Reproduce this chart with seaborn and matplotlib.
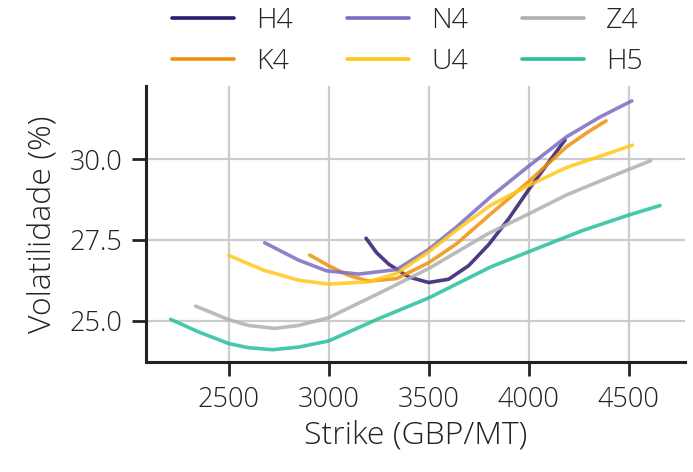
import pandas as pd
import matplotlib
matplotlib.use("Agg")
import matplotlib.pyplot as plt
import seaborn as sns

# Volatility smiles per contract (strike GBP/MT, vol %)
h4_strike = [3187, 3240, 3300, 3400, 3500, 3600, 3700, 3800, 3900, 4000, 4100, 4182]
h4_vol = [27.55, 27.10, 26.75, 26.35, 26.18, 26.28, 26.70, 27.35, 28.15, 29.05, 29.90, 30.59]

k4_strike = [2905, 3000, 3100, 3200, 3340, 3500, 3640, 3810, 4000, 4190, 4300, 4387]
k4_vol = [27.03, 26.70, 26.40, 26.22, 26.30, 26.79, 27.38, 28.30, 29.30, 30.38, 30.85, 31.18]

n4_strike = [2680, 2850, 2990, 3150, 3340, 3500, 3640, 3810, 4000, 4190, 4357, 4516]
n4_vol = [27.41, 26.87, 26.54, 26.44, 26.58, 27.20, 27.90, 28.83, 29.78, 30.69, 31.30, 31.80]

u4_strike = [2500, 2675, 2850, 3000, 3200, 3340, 3500, 3650, 3810, 4000, 4190, 4340, 4519]
u4_vol = [27.02, 26.56, 26.25, 26.13, 26.20, 26.46, 27.13, 27.85, 28.57, 29.18, 29.74, 30.05, 30.43]

z4_strike = [2335, 2500, 2600, 2730, 2850, 3000, 3250, 3500, 3800, 4000, 4190, 4350, 4502, 4611]
z4_vol = [25.45, 25.03, 24.85, 24.76, 24.85, 25.09, 25.84, 26.61, 27.70, 28.30, 28.89, 29.30, 29.68, 29.95]

h5_strike = [2210, 2350, 2500, 2600, 2720, 2850, 3000, 3250, 3500, 3810, 4000, 4266, 4502, 4657]
h5_vol = [25.04, 24.65, 24.29, 24.16, 24.10, 24.18, 24.37, 25.06, 25.70, 26.66, 27.13, 27.78, 28.27, 28.56]

contracts = ["H4", "K4", "N4", "U4", "Z4", "H5"]
colors = ["#2c1a6b", "#f0900a", "#7d6cc0", "#ffc81a", "#b0b0b0", "#26bf9c"]

strikes = [h4_strike, k4_strike, n4_strike, u4_strike, z4_strike, h5_strike]
vols = [h4_vol, k4_vol, n4_vol, u4_vol, z4_vol, h5_vol]
df = pd.concat([
    pd.DataFrame({"Strike": s, "Vol": v, "Contrato": c})
    for c, s, v in zip(contracts, strikes, vols)
])

sns.set_style("ticks")
plt.rcParams["font.family"] = ["Open Sans", "DejaVu Sans"]
plt.rcParams["font.weight"] = "light"

fig = plt.figure(figsize=(6.93, 4.72), dpi=100)
ax = fig.add_axes([0.2107, 0.2331, 0.7778, 0.5847])

sns.lineplot(data=df, x="Strike", y="Vol", hue="Contrato", hue_order=contracts,
             palette=colors, linewidth=2.6, alpha=0.85, sort=False, ax=ax)

ax.set_xlim(2087, 4782)
ax.set_ylim(23.72, 32.26)
ax.set_xticks([2500, 3000, 3500, 4000, 4500])
ax.set_yticks([25.0, 27.5, 30.0])
ax.set_yticklabels(["25.0", "27.5", "30.0"])
ax.grid(True, color="#cccccc", linewidth=1.6)
ax.set_axisbelow(True)
sns.despine(ax=ax)
for sp in ["left", "bottom"]:
    ax.spines[sp].set_linewidth(2.2)
    ax.spines[sp].set_color("#222222")
ax.tick_params(axis="both", length=10, width=2, color="#222222",
               labelsize=19.5, labelcolor="#222222", pad=7)
ax.set_xlabel("Strike (GBP/MT)", fontsize=23, color="#222222", fontweight="light")
ax.set_ylabel("Volatilidade (%)", fontsize=23, color="#222222", fontweight="light",
              labelpad=8)

sns.move_legend(ax, "upper center", bbox_to_anchor=(0.588, 1.04),
                bbox_transform=fig.transFigure, ncol=3,
                frameon=False, title=None, fontsize=20.5, handlelength=2.18,
                columnspacing=1.9, handletextpad=0.77, labelspacing=0.46)
for line in ax.get_legend().get_lines():
    line.set_linewidth(2.6)
    line.set_alpha(1.0)

fig.savefig("out.png", dpi=100)
plt.close()
